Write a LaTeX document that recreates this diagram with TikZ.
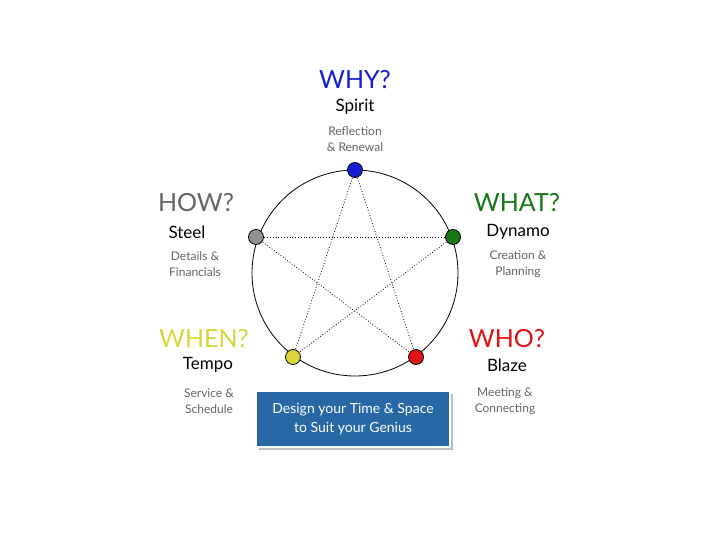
\documentclass[tikz,border=0pt]{standalone}
\usepackage{fontspec}
\setmainfont{Lato}
\usetikzlibrary{positioning,shadows}
\definecolor{gnblue}{RGB}{20,30,210}
\definecolor{gngreen}{RGB}{20,120,20}
\definecolor{gnred}{RGB}{225,20,20}
\definecolor{gnyellow}{RGB}{215,215,60}
\definecolor{gngray}{RGB}{100,100,100}
\definecolor{gnbox}{RGB}{40,105,165}
\tikzstyle{dot} = [circle, draw=black, thick, minimum size=15pt, inner sep=0pt]
\tikzstyle{question} = [font=\fontsize{25}{27}\selectfont]
\tikzstyle{genius} = [font=\fontsize{17}{19}\selectfont, text=black]
\tikzstyle{blurb} = [font=\fontsize{12}{16}\selectfont, text=gngray, align=center]
\tikzstyle{star} = [thick, dotted]

\begin{document}
\begin{tikzpicture}[x=1pt, y=-1pt]
\useasboundingbox (0,0) rectangle (720,540);
% outer ring
\node (ring) [circle, draw, thick, minimum size=206pt, inner sep=0pt] at (355,273) {};

% five points (coordinates first, dots drawn over the star)
\coordinate (pwhy) at (355,170);
\coordinate (pwhat) at (453,237);
\coordinate (pwho) at (416,357);
\coordinate (pwhen) at (293,357);
\coordinate (phow) at (256,237);

% pentagram
\draw[star] (pwhy) -- (pwhen);
\draw[star] (pwhy) -- (pwho);
\draw[star] (phow) -- (pwhat);
\draw[star] (phow) -- (pwho);
\draw[star] (pwhat) -- (pwhen);

\node (why) [dot, fill=gnblue] at (pwhy) {};
\node (what) [dot, fill=gngreen] at (pwhat) {};
\node (who) [dot, fill=gnred] at (pwho) {};
\node (when) [dot, fill=gnyellow] at (pwhen) {};
\node (how) [dot, fill=gngray!70] at (phow) {};

% labels
\node (whyq) [question, text=gnblue] at (355,80) {WHY?};
\node (whyg) [genius] at (355,107) {Spirit};
\node (whyb) [blurb] at (355,139) {Reflection\\\& Renewal};

\node (howq) [question, text=gngray] at (196,203) {HOW?};
\node (howg) [genius] at (187,232) {Steel};
\node (howb) [blurb] at (195,264) {Details \&\\Financials};

\node (whatq) [question, text=gngreen] at (517,203) {WHAT?};
\node (whatg) [genius] at (518,232) {Dynamo};
\node (whatb) [blurb] at (518,264) {Creation \&\\Planning};

\node (whenq) [question, text=gnyellow] at (204,339) {WHEN?};
\node (wheng) [genius] at (208,365) {Tempo};
\node (whenb) [blurb] at (209,401) {Service \&\\Schedule};

\node (whoq) [question, text=gnred] at (507,339) {WHO?};
\node (whog) [genius] at (507,365) {Blaze};
\node (whob) [blurb] at (505,401) {Meeting \&\\Connecting};

% motto box
\node (motto) [rectangle, fill=gnbox, draw=white, line width=1.5pt, drop shadow, minimum width=194pt, minimum height=56pt, text=white, align=center, font=\fontsize{14}{19}\selectfont] at (353,419) {Design your Time \& Space\\to Suit your Genius};
\end{tikzpicture}
\end{document}
